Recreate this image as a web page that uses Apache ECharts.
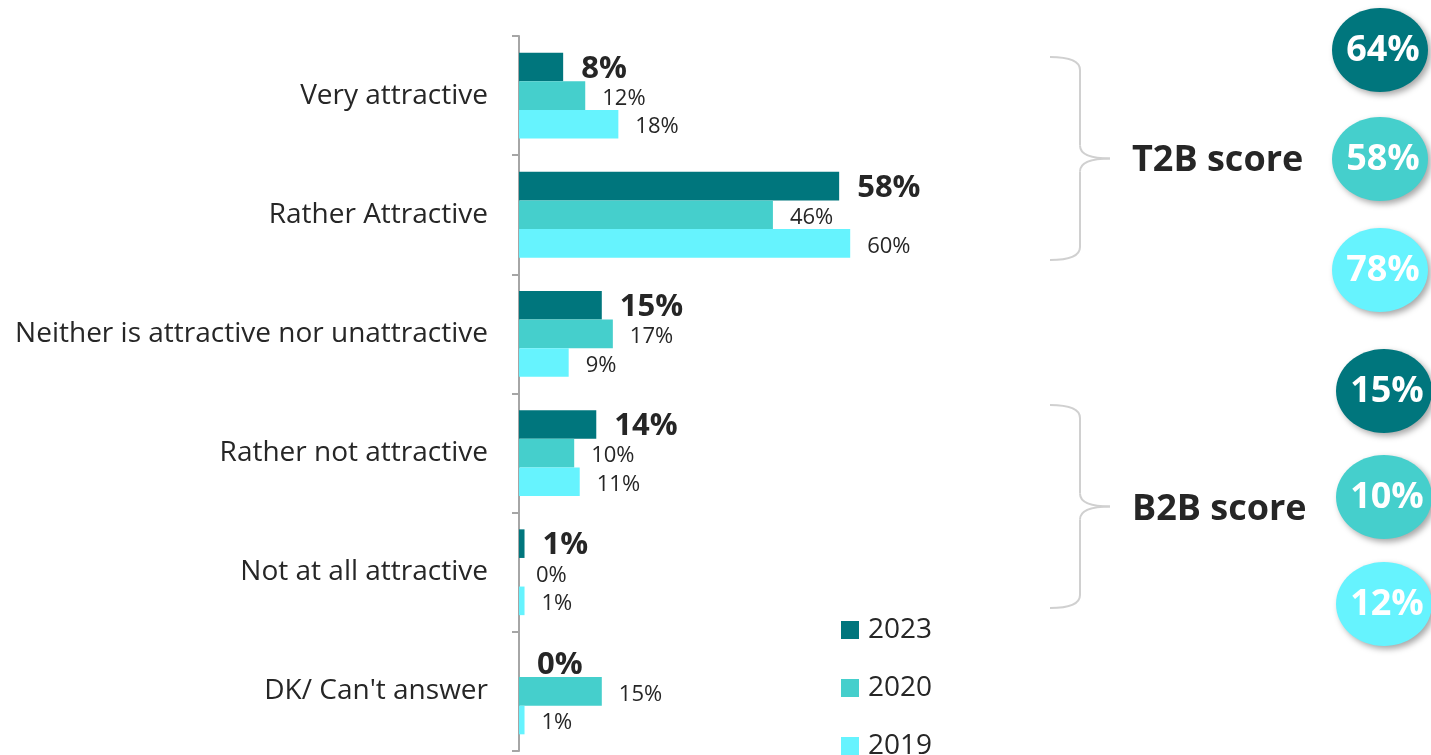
<!DOCTYPE html>
<html>
<head>
<meta charset="utf-8">
<script src="https://cdn.jsdelivr.net/npm/echarts@6/dist/echarts.min.js"></script>
<style>
  html, body { margin: 0; padding: 0; background: #fff; }
  #main { width: 1431px; height: 755px; }
</style>
</head>
<body>
<div id="main"></div>
<script>
// data
const categories = ['Very attractive', 'Rather Attractive', 'Neither is attractive nor unattractive',
  'Rather not attractive', 'Not at all attractive', "DK/ Can't answer"];
const years = ['2023', '2020', '2019'];
const values2023 = [8, 58, 15, 14, 1, 0];
const values2020 = [12, 46, 17, 10, 0, 15];
const values2019 = [18, 60, 9, 11, 1, 1];
const t2bScores = [64, 58, 78];
const b2bScores = [15, 10, 12];

const colors = ['#00767D', '#45CFCC', '#66F3FE'];
const textColor = '#262626';
const font = '"Open Sans", sans-serif';

const chart = echarts.init(document.getElementById('main'));

function barSeries(name, data, idx) {
  const bold = idx === 0;
  return {
    name: name,
    type: 'bar',
    data: data,
    barGap: '0%',
    barCategoryGap: '28%',
    itemStyle: { color: colors[idx] },
    label: {
      show: true,
      position: 'right',
      distance: bold ? 18 : 17,
      offset: [0, bold ? 2 : 3],
      formatter: '{c}%',
      color: textColor,
      fontFamily: font,
      fontSize: bold ? 31 : 22,
      fontWeight: bold ? 'bold' : 'normal'
    }
  };
}

// right side: braces, score titles and circles
const braceStyle = { fill: null, stroke: '#D0D0D0', lineWidth: 2 };
function curve(x1, y1, cx, cy, x2, y2) {
  return { type: 'bezierCurve', shape: { x1: x1, y1: y1, cpx1: cx, cpy1: cy, x2: x2, y2: y2 }, style: braceStyle };
}
function brace(top, bottom) {
  const mid = (top + bottom) / 2;
  return {
    type: 'group',
    children: [
      curve(1050, top, 1080, top, 1080, top + 13),
      { type: 'line', shape: { x1: 1080, y1: top + 13, x2: 1080, y2: mid - 13 }, style: braceStyle },
      curve(1080, mid - 13, 1080, mid, 1110, mid),
      curve(1110, mid, 1080, mid, 1080, mid + 13),
      { type: 'line', shape: { x1: 1080, y1: mid + 13, x2: 1080, y2: bottom - 13 }, style: braceStyle },
      curve(1080, bottom - 13, 1080, bottom, 1050, bottom)
    ]
  };
}

function bubble(cx, cy, value, idx) {
  return {
    type: 'group',
    children: [
      {
        type: 'ellipse',
        shape: { cx: cx, cy: cy, rx: 48, ry: 42 },
        style: {
          fill: colors[idx],
          shadowBlur: 6, shadowOffsetX: 3, shadowOffsetY: 3,
          shadowColor: 'rgba(0,0,0,0.35)'
        }
      },
      {
        type: 'text',
        x: cx + 3, y: cy + 1,
        style: {
          text: value + '%',
          fill: '#fff',
          font: 'bold 36px "Open Sans", sans-serif',
          align: 'center',
          verticalAlign: 'middle'
        }
      }
    ]
  };
}

const t2bY = [50, 159, 270];
const b2bY = [391, 497, 604];
const graphics = [
  brace(57, 260),
  brace(405, 608),
  {
    type: 'text', x: 1132, y: 161,
    style: { text: 'T2B score', fill: textColor, font: 'bold 36px "Open Sans", sans-serif', verticalAlign: 'middle' }
  },
  {
    type: 'text', x: 1132, y: 510,
    style: { text: 'B2B score', fill: textColor, font: 'bold 36px "Open Sans", sans-serif', verticalAlign: 'middle' }
  }
];
t2bScores.forEach((v, i) => graphics.push(bubble(1380, t2bY[i], v, i)));
b2bScores.forEach((v, i) => graphics.push(bubble(1384, b2bY[i], v, i)));

const option = {
  animation: false,
  backgroundColor: '#fff',
  textStyle: { fontFamily: font },
  grid: { left: 519, right: 360, top: 36, bottom: 4 },
  legend: {
    data: years,
    orient: 'vertical',
    left: 841,
    top: 616,
    height: 250,
    padding: 0,
    icon: 'rect',
    itemWidth: 18,
    itemHeight: 18,
    itemGap: 30,
    textStyle: { color: textColor, fontSize: 28, fontFamily: font, lineHeight: 28, padding: [0, 0, 0, 4] }
  },
  xAxis: {
    type: 'value',
    min: 0,
    max: 100,
    show: false
  },
  yAxis: {
    type: 'category',
    data: categories,
    inverse: true,
    axisLine: { show: true, lineStyle: { color: '#A6A6A6', width: 2 } },
    axisTick: { show: true, length: 7, lineStyle: { color: '#A6A6A6', width: 2 } },
    axisLabel: { color: textColor, fontSize: 28, fontFamily: font, margin: 31, padding: [5, 0, 0, 0] }
  },
  series: [
    barSeries(years[0], values2023, 0),
    barSeries(years[1], values2020, 1),
    barSeries(years[2], values2019, 2)
  ],
  graphic: graphics
};

chart.setOption(option);
</script>
</body>
</html>
